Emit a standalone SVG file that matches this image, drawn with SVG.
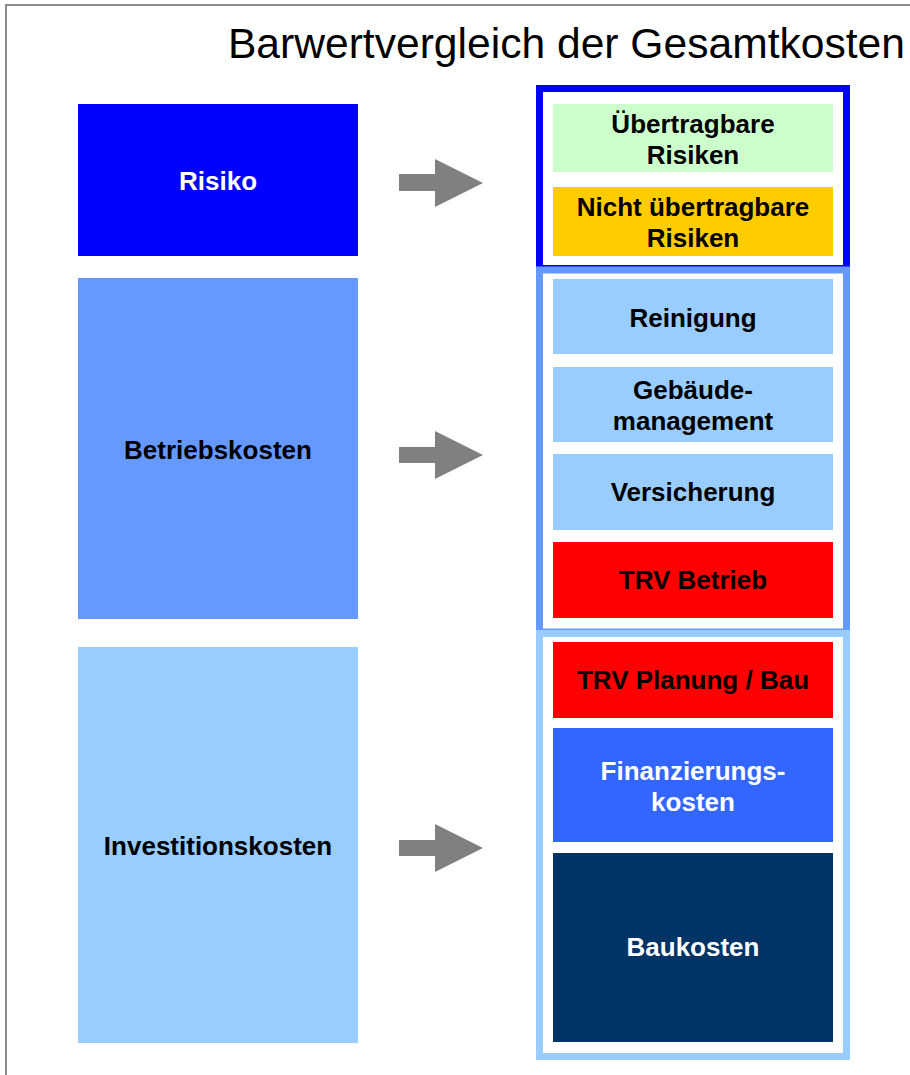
<svg xmlns="http://www.w3.org/2000/svg" width="910" height="1075" viewBox="0 0 910 1075">
  <defs>
    <style>
      .lbl { font-family: "Liberation Sans", Arial, sans-serif; font-weight: bold; font-size: 26px; text-anchor: middle; fill: #000; }
      .wht { fill: #fff; }
      .title { font-family: "Liberation Sans", Arial, sans-serif; font-size: 42.6px; fill: #000; }
      .frame { fill: none; stroke-width: 7; }
      .arrow { fill: #808080; }
    </style>
  </defs>

  <rect x="0" y="0" width="910" height="1075" fill="#fff"/>
  <!-- page border -->
  <rect x="6" y="5" width="1000" height="1200" fill="none" stroke="#8c8c8c" stroke-width="2"/>

  <text class="title" x="905" y="58" text-anchor="end">Barwertvergleich der Gesamtkosten</text>

  <!-- left category blocks -->
  <g id="risiko">
    <rect x="78" y="104" width="280" height="152" fill="#0000ff"/>
    <text class="lbl wht" x="218" y="190">Risiko</text>
  </g>
  <g id="betriebskosten">
    <rect x="78" y="278" width="280" height="341" fill="#6699ff"/>
    <text class="lbl" x="218" y="459">Betriebskosten</text>
  </g>
  <g id="investitionskosten">
    <rect x="78" y="647" width="280" height="396" fill="#99ccff"/>
    <text class="lbl" x="218" y="855">Investitionskosten</text>
  </g>

  <!-- arrows -->
  <g id="connectors">
    <polygon class="arrow" points="399,174 435,174 435,159 483,183 435,207 435,191 399,191"/>
    <polygon class="arrow" points="399,447 435,447 435,431 483,455 435,479 435,463 399,463"/>
    <polygon class="arrow" points="399,840 435,840 435,824 483,848 435,872 435,856 399,856"/>
  </g>

  <!-- group frames -->
  <g id="frame-risiko">
    <rect class="frame" x="539.5" y="88.5" width="307" height="180" stroke="#0000ff"/>
  </g>
  <g id="frame-betrieb">
    <rect class="frame" x="539.5" y="270" width="307" height="362" stroke="#6699ff"/>
  </g>
  <g id="frame-investition">
    <rect class="frame" x="539.5" y="633.5" width="307" height="423" stroke="#99ccff"/>
  </g>

  <!-- right detail blocks -->
  <g id="uebertragbare-risiken">
    <rect x="553" y="104" width="280" height="68" fill="#ccffcc"/>
    <text class="lbl" x="693" y="133">Übertragbare</text>
    <text class="lbl" x="693" y="164">Risiken</text>
  </g>
  <g id="nicht-uebertragbare-risiken">
    <rect x="553" y="187" width="280" height="69" fill="#ffcc00"/>
    <text class="lbl" x="693" y="216">Nicht übertragbare</text>
    <text class="lbl" x="693" y="247">Risiken</text>
  </g>
  <g id="reinigung">
    <rect x="553" y="279" width="280" height="75" fill="#99ccff"/>
    <text class="lbl" x="693" y="327">Reinigung</text>
  </g>
  <g id="gebaeudemanagement">
    <rect x="553" y="367" width="280" height="75" fill="#99ccff"/>
    <text class="lbl" x="693" y="399">Gebäude-</text>
    <text class="lbl" x="693" y="430">management</text>
  </g>
  <g id="versicherung">
    <rect x="553" y="454" width="280" height="76" fill="#99ccff"/>
    <text class="lbl" x="693" y="501">Versicherung</text>
  </g>
  <g id="trv-betrieb">
    <rect x="553" y="542" width="280" height="76" fill="#ff0000"/>
    <text class="lbl" x="693" y="589">TRV Betrieb</text>
  </g>
  <g id="trv-planung-bau">
    <rect x="553" y="642" width="280" height="76" fill="#ff0000"/>
    <text class="lbl" x="693" y="689">TRV Planung / Bau</text>
  </g>
  <g id="finanzierungskosten">
    <rect x="553" y="728" width="280" height="114" fill="#3366ff"/>
    <text class="lbl wht" x="693" y="780">Finanzierungs-</text>
    <text class="lbl wht" x="693" y="811">kosten</text>
  </g>
  <g id="baukosten">
    <rect x="553" y="853" width="280" height="189" fill="#003366"/>
    <text class="lbl wht" x="693" y="956">Baukosten</text>
  </g>
</svg>
